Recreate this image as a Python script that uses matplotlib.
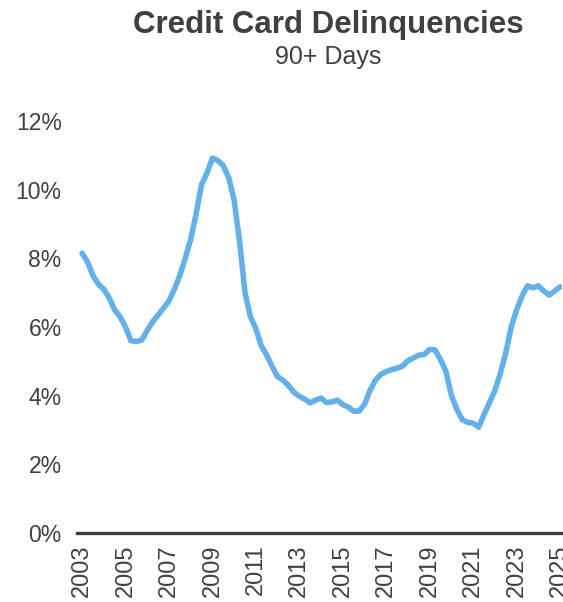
import numpy as np
import matplotlib.pyplot as plt

# quarterly, 2003Q1 .. 2025Q1
start_year = 2003
delinq_90 = [
    8.15, 7.90, 7.50, 7.25, 7.10, 6.85, 6.50, 6.30,
    6.00, 5.60, 5.58, 5.62, 5.90, 6.15, 6.35, 6.55,
    6.76, 7.10, 7.50, 8.00, 8.55, 9.30, 10.15, 10.48,
    10.92, 10.85, 10.70, 10.35, 9.70, 8.50, 7.00, 6.30,
    5.95, 5.45, 5.18, 4.85, 4.55, 4.45, 4.30, 4.10,
    3.98, 3.90, 3.79, 3.87, 3.93, 3.80, 3.82, 3.87,
    3.74, 3.67, 3.55, 3.55, 3.75, 4.15, 4.45, 4.62,
    4.70, 4.76, 4.80, 4.86, 5.02, 5.10, 5.18, 5.20,
    5.35, 5.33, 5.05, 4.70, 4.00, 3.60, 3.30, 3.22,
    3.20, 3.08, 3.45, 3.80, 4.15, 4.65, 5.25, 6.00,
    6.50, 6.90, 7.20, 7.14, 7.20, 7.05, 6.93, 7.05,
    7.17,
]
year_ticks = list(range(2003, 2026, 2))
pct_ticks = [0, 2, 4, 6, 8, 10, 12]

t = start_year + np.arange(len(delinq_90)) / 4

plt.rcParams['font.family'] = ['Liberation Sans', 'DejaVu Sans']
txt = '#404040'

fig = plt.figure(figsize=(5.63, 6.02), dpi=100)
ax = fig.add_axes([0.1368, 0.1146, 0.8615, 0.6844])

ax.plot(t, delinq_90, color='#64B0E8', lw=4, solid_capstyle='round')

ax.set_xlim(2002.77, 2025.09)
ax.set_ylim(0, 12)
ax.set_yticks(pct_ticks)
ax.set_yticklabels([f'{v}%' for v in pct_ticks])
ax.set_xticks(year_ticks)
ax.set_xticklabels([str(y) for y in year_ticks], rotation=90)

ax.tick_params(axis='y', length=0, pad=11, labelsize=16.5, labelcolor=txt)
ax.tick_params(axis='x', length=0, pad=8, labelsize=17, labelcolor=txt)
for lbl in ax.get_xticklabels():
    lbl.set_va('top')

for s in ['top', 'right', 'left']:
    ax.spines[s].set_visible(False)
ax.spines['bottom'].set_linewidth(2.4)
ax.spines['bottom'].set_color(txt)

fig.text(0.583, 0.945, 'Credit Card Delinquencies', ha='center', va='baseline',
         fontsize=22.5, fontweight='bold', color=txt)
fig.text(0.583, 0.893, '90+ Days', ha='center', va='baseline',
         fontsize=18, color=txt)

fig.savefig('out.png', dpi=100)
